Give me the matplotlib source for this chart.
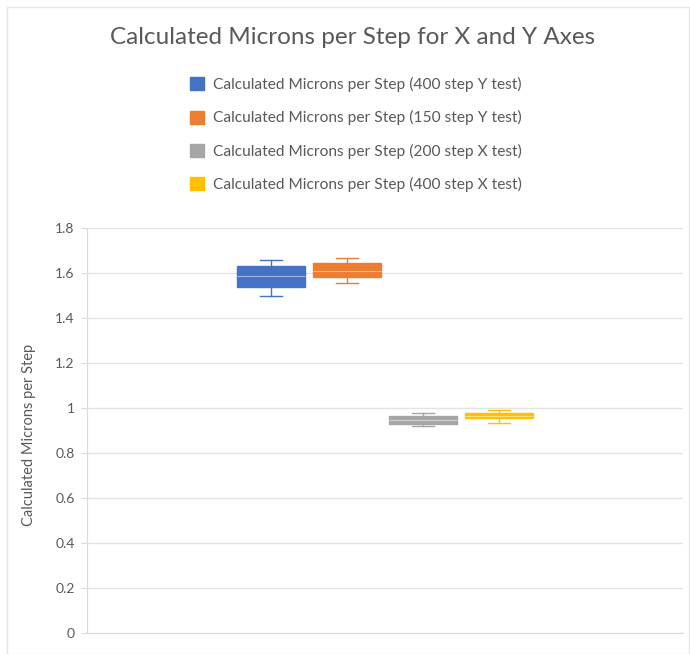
import matplotlib
matplotlib.use("Agg")
import matplotlib.pyplot as plt
from matplotlib.patches import Patch, Rectangle

plt.rcParams['font.family'] = ['Lato', 'DejaVu Sans']

labels = [
    "Calculated Microns per Step (400 step Y test)",
    "Calculated Microns per Step (150 step Y test)",
    "Calculated Microns per Step (200 step X test)",
    "Calculated Microns per Step (400 step X test)",
]
colors = ["#4472C4", "#ED7D31", "#A5A5A5", "#FFC000"]
whislo = [1.50, 1.555, 0.918, 0.932]
q1 = [1.537, 1.582, 0.927, 0.954]
med = [1.585, 1.61, 0.945, 0.965]
q3 = [1.631, 1.644, 0.963, 0.980]
whishi = [1.658, 1.667, 0.976, 0.989]
yticks = [0, 0.2, 0.4, 0.6, 0.8, 1, 1.2, 1.4, 1.6, 1.8]
ytick_labels = ["0", "0.2", "0.4", "0.6", "0.8", "1", "1.2", "1.4", "1.6", "1.8"]

W, H = 690, 654
fig = plt.figure(figsize=(W / 100, H / 100), dpi=100)
fig.patches.append(Rectangle((7 / W, 0), 1 - 8 / W, 1 - 7 / H, transform=fig.transFigure,
                             fill=False, edgecolor="#e6e6e6", linewidth=1))

ax = fig.add_axes([87 / W, (H - 633) / H, (683 - 87) / W, (633 - 228) / H])
gray = "#595959"

stats = []
for i in range(4):
    stats.append(dict(whislo=whislo[i], q1=q1[i], med=med[i], q3=q3[i], whishi=whishi[i],
                      fliers=[], label=labels[i]))

for i, s in enumerate(stats):
    c = colors[i]
    ax.bxp([s], positions=[i + 1], widths=0.9, patch_artist=True, showfliers=False,
           boxprops=dict(facecolor=c, edgecolor=c, linewidth=1),
           whiskerprops=dict(color=c, linewidth=1),
           capprops=dict(color=c, linewidth=1),
           medianprops=dict(color="white", linewidth=0.8, alpha=0.5),
           capwidths=0.3, zorder=3)

ax.set_xlim(-1.42, 6.42)
ax.set_ylim(0, 1.8)
ax.set_yticks(yticks)
ax.set_yticklabels(ytick_labels, fontsize=10, color=gray)
ax.set_xticks([])
ax.yaxis.grid(True, color="#e3e3e3", linewidth=1)
ax.set_axisbelow(True)
ax.tick_params(axis="y", length=4, color="#d9d9d9", pad=5)
for side in ["top", "right"]:
    ax.spines[side].set_visible(False)
ax.spines["left"].set_color("#d9d9d9")
ax.spines["bottom"].set_color("#d9d9d9")
ax.set_ylabel("Calculated Microns per Step", fontsize=10.5, color=gray, labelpad=10)
ax.yaxis.set_label_coords(-0.085, 0.49)

fig.text(353 / W, 1 - 38 / H, "Calculated Microns per Step for X and Y Axes",
         ha="center", va="center", fontsize=17.5, color=gray)

handles = [Patch(facecolor=c, edgecolor=c) for c in colors]
leg = fig.legend(handles, labels, loc="upper left", bbox_to_anchor=(176 / W, 1 - 63 / H),
                 frameon=False, fontsize=11.2, labelcolor=gray, handlelength=0.9,
                 handleheight=0.9, handletextpad=0.6, labelspacing=1.18)

fig.savefig("out.png", dpi=100)
